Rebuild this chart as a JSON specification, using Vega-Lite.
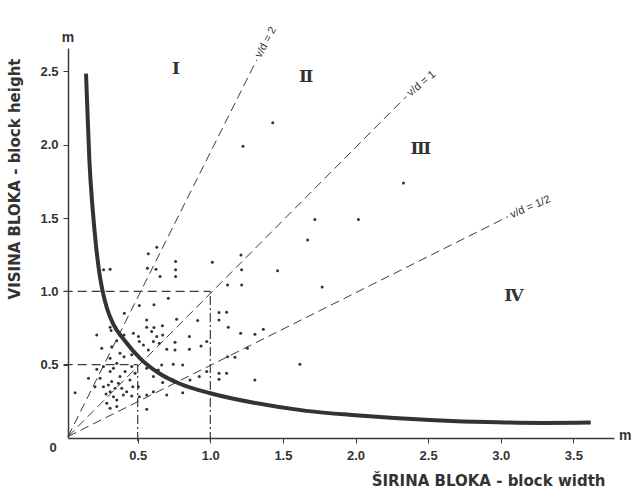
{
  "$schema": "https://vega.github.io/schema/vega-lite/v6.json",
  "width": 546,
  "height": 390,
  "autosize": {"type": "none"},
  "padding": {"left": 68, "top": 48, "right": 22, "bottom": 59},
  "background": "white",
  "config": {
    "view": {"stroke": null},
    "axis": {"grid": false, "domainColor": "#3a3a3a", "tickColor": "#3a3a3a", "labelColor": "#333333", "titleColor": "#333333", "labelFont": "Liberation Sans", "titleFont": "DejaVu Sans", "labelFontWeight": "bold", "titleFontWeight": "bold", "labelFontSize": 13, "titleFontSize": 13, "domainWidth": 1.5, "tickSize": 5}
  },
  "datasets": {
    "points": [
      {"x":0.573,"y":1.256},{"x":0.631,"y":1.301},{"x":0.567,"y":1.158},{"x":0.626,"y":1.151},{"x":0.654,"y":1.101},
      {"x":0.761,"y":1.204},{"x":0.761,"y":1.147},{"x":0.761,"y":1.101},{"x":1.014,"y":1.199},{"x":1.211,"y":1.249},
      {"x":1.216,"y":1.147},{"x":1.216,"y":1.044},{"x":1.119,"y":1.044},{"x":1.463,"y":1.140},{"x":0.310,"y":1.151},
      {"x":0.265,"y":1.147},{"x":0.711,"y":0.953},{"x":0.511,"y":0.903},{"x":0.612,"y":0.908},{"x":0.408,"y":0.851},
      {"x":0.768,"y":0.810},{"x":0.913,"y":0.801},{"x":1.060,"y":0.856},{"x":1.112,"y":0.858},{"x":1.060,"y":0.805},
      {"x":1.124,"y":0.755},{"x":1.209,"y":0.714},{"x":1.307,"y":0.708},{"x":1.365,"y":0.742},{"x":1.255,"y":0.612},
      {"x":1.170,"y":0.551},{"x":0.975,"y":0.658},{"x":0.936,"y":0.628},{"x":0.856,"y":0.692},{"x":0.856,"y":0.605},
      {"x":0.757,"y":0.653},{"x":0.757,"y":0.601},{"x":0.700,"y":0.605},{"x":0.672,"y":0.703},{"x":0.670,"y":0.765},
      {"x":0.612,"y":0.753},{"x":0.596,"y":0.726},{"x":0.562,"y":0.805},{"x":0.562,"y":0.755},{"x":0.505,"y":0.692},
      {"x":0.511,"y":0.658},{"x":0.539,"y":0.635},{"x":0.573,"y":0.601},{"x":0.608,"y":0.658},{"x":0.631,"y":0.692},
      {"x":0.649,"y":0.646},{"x":0.470,"y":0.714},{"x":0.406,"y":0.703},{"x":0.356,"y":0.664},{"x":0.310,"y":0.755},
      {"x":0.317,"y":0.733},{"x":0.218,"y":0.703},{"x":0.252,"y":0.612},{"x":0.321,"y":0.623},{"x":0.378,"y":0.578},
      {"x":0.406,"y":0.555},{"x":0.459,"y":0.567},{"x":0.310,"y":0.544},{"x":0.218,"y":0.469},{"x":0.161,"y":0.407},
      {"x":0.069,"y":0.309},{"x":0.264,"y":0.350},{"x":0.310,"y":0.453},{"x":0.333,"y":0.476},{"x":0.378,"y":0.419},
      {"x":0.413,"y":0.453},{"x":0.447,"y":0.396},{"x":0.466,"y":0.350},{"x":0.321,"y":0.385},{"x":0.282,"y":0.300},
      {"x":0.310,"y":0.316},{"x":0.333,"y":0.282},{"x":0.287,"y":0.237},{"x":0.356,"y":0.259},{"x":0.401,"y":0.294},
      {"x":0.424,"y":0.316},{"x":0.459,"y":0.287},{"x":0.505,"y":0.350},{"x":0.511,"y":0.282},{"x":0.562,"y":0.294},
      {"x":0.562,"y":0.196},{"x":0.608,"y":0.316},{"x":0.672,"y":0.378},{"x":0.665,"y":0.498},{"x":0.642,"y":0.464},
      {"x":0.745,"y":0.503},{"x":0.810,"y":0.498},{"x":0.810,"y":0.309},{"x":0.700,"y":0.294},{"x":0.745,"y":0.396},
      {"x":0.860,"y":0.396},{"x":0.924,"y":0.419},{"x":0.975,"y":0.453},{"x":1.060,"y":0.441},{"x":1.112,"y":0.441},
      {"x":1.060,"y":0.400},{"x":1.119,"y":0.555},{"x":1.307,"y":0.396},{"x":1.617,"y":0.503},
      {"x":0.298,"y":0.362},{"x":0.344,"y":0.339},{"x":0.367,"y":0.373},{"x":0.390,"y":0.339},{"x":0.241,"y":0.407},
      {"x":0.206,"y":0.350},{"x":0.310,"y":0.203},{"x":0.356,"y":0.214},{"x":0.482,"y":0.441},{"x":0.459,"y":0.487},
      {"x":0.562,"y":0.476},{"x":0.608,"y":0.419},{"x":0.356,"y":0.510},{"x":0.264,"y":0.487},
      {"x":1.225,"y":1.99},{"x":1.43,"y":2.15},{"x":1.72,"y":1.49},{"x":1.67,"y":1.35},{"x":2.33,"y":1.74},
      {"x":2.02,"y":1.49},{"x":1.77,"y":1.03}
    ],
    "curve": [
      {"x":0.144,"y":2.485},{"x":0.155,"y":2.2},{"x":0.167,"y":1.9},{"x":0.19,"y":1.56},{"x":0.211,"y":1.33},
      {"x":0.24,"y":1.10},{"x":0.261,"y":0.99},{"x":0.29,"y":0.88},{"x":0.33,"y":0.78},
      {"x":0.41,"y":0.665},{"x":0.52,"y":0.54},{"x":0.65,"y":0.44},{"x":0.79,"y":0.37},{"x":1.0,"y":0.305},
      {"x":1.3,"y":0.24},{"x":1.66,"y":0.185},{"x":2.0,"y":0.155},{"x":2.51,"y":0.123},{"x":2.98,"y":0.107},
      {"x":3.3,"y":0.103},{"x":3.62,"y":0.105}
    ],
    "rays": [
      {"x":0.02,"y":0.01,"x2":1.32,"y2":2.58,"label":"v/d = 2","angle":-62},
      {"x":0.02,"y":0.01,"x2":2.35,"y2":2.33,"label":"v/d = 1","angle":-40},
      {"x":0.02,"y":0.01,"x2":3.05,"y2":1.51,"label":"v/d = 1/2","angle":-23}
    ],
    "hguides": [
      {"x":-0.01,"y":1.0,"x2":1.0,"y2":1.0},
      {"x":-0.01,"y":0.5,"x2":0.5,"y2":0.5}
    ],
    "vguides": [
      {"x":1.0,"y":-0.02,"x2":1.0,"y2":1.0},
      {"x":0.5,"y":-0.02,"x2":0.5,"y2":0.5}
    ],
    "zones": [
      {"x":0.763,"y":2.515,"label":"Ⅰ"},
      {"x":1.66,"y":2.46,"label":"Ⅱ"},
      {"x":2.45,"y":1.97,"label":"Ⅲ"},
      {"x":3.09,"y":0.97,"label":"Ⅳ"}
    ],
    "origin": [{"x":0.02,"y":0,"label":"0"}],
    "unitx": [{"x":3.78,"y":0,"label":"m"}],
    "unity": [{"x":0.02,"y":2.66,"label":"m"}]
  },
  "encoding": {
    "x": {"field": "x", "type": "quantitative", "scale": {"domain": [0.02, 3.78], "nice": false, "zero": false},
      "axis": {"values": [0.5,1,1.5,2,2.5,3,3.5], "format": ".1f", "title": "ŠIRINA  BLOKA - block width", "titleAnchor": null, "titleAlign": "right", "titleBaseline": "top", "titleX": 537, "titleY": 35, "titleFontSize": 15, "labelPadding": 6}},
    "y": {"field": "y", "type": "quantitative", "scale": {"domain": [0, 2.66], "nice": false, "zero": false},
      "axis": {"values": [0.5,1,1.5,2,2.5], "format": ".1f", "title": "VISINA  BLOKA - block height", "titleX": -46, "titleY": 10, "titleAlign": "right", "titleAnchor": null, "titleFontSize": 15, "labelPadding": 5}}
  },
  "layer": [
    {"data": {"name": "hguides"}, "mark": {"type": "rule", "color": "#3a3a3a", "strokeWidth": 1.2, "strokeDash": [9, 5]},
      "encoding": {"x2": {"field": "x2"}, "y2": {"field": "y2"}}},
    {"data": {"name": "vguides"}, "mark": {"type": "rule", "color": "#3a3a3a", "strokeWidth": 1.2, "strokeDash": [9, 3, 2, 3]},
      "encoding": {"x2": {"field": "x2"}, "y2": {"field": "y2"}}},
    {"data": {"name": "rays"}, "mark": {"type": "rule", "color": "#3a3a3a", "strokeWidth": 1, "strokeDash": [9, 5]},
      "encoding": {"x2": {"field": "x2"}, "y2": {"field": "y2"}}},
    {"data": {"name": "rays"}, "mark": {"type": "text", "color": "#333333", "font": "Liberation Sans", "fontSize": 11, "align": "left", "baseline": "middle", "dx": 3},
      "encoding": {"x": {"field": "x2", "type": "quantitative"}, "y": {"field": "y2", "type": "quantitative"}, "text": {"field": "label"}, "angle": {"field": "angle", "type": "quantitative", "scale": null}}},
    {"data": {"name": "points"}, "mark": {"type": "circle", "color": "#333333", "size": 9, "opacity": 1}},
    {"data": {"name": "curve"}, "mark": {"type": "line", "color": "#333333", "strokeWidth": 4, "interpolate": "monotone"},
      "encoding": {"order": {"field": "x", "type": "quantitative"}}},
    {"data": {"name": "zones"}, "mark": {"type": "text", "color": "#333333", "font": "DejaVu Serif", "fontWeight": "bold", "fontSize": 17, "align": "center", "baseline": "middle"},
      "encoding": {"text": {"field": "label"}}},
    {"data": {"name": "origin"}, "mark": {"type": "text", "color": "#333333", "font": "Liberation Sans", "fontWeight": "bold", "fontSize": 13, "align": "center", "baseline": "top", "dx": -15, "dy": 4},
      "encoding": {"text": {"field": "label"}}},
    {"data": {"name": "unitx"}, "mark": {"type": "text", "color": "#333333", "font": "Liberation Sans", "fontWeight": "bold", "fontSize": 14, "align": "left", "baseline": "middle", "dx": 5, "dy": -2},
      "encoding": {"text": {"field": "label"}}},
    {"data": {"name": "unity"}, "mark": {"type": "text", "color": "#333333", "font": "Liberation Sans", "fontWeight": "bold", "fontSize": 14, "align": "center", "baseline": "bottom", "dy": -3},
      "encoding": {"text": {"field": "label"}}}
  ]
}
